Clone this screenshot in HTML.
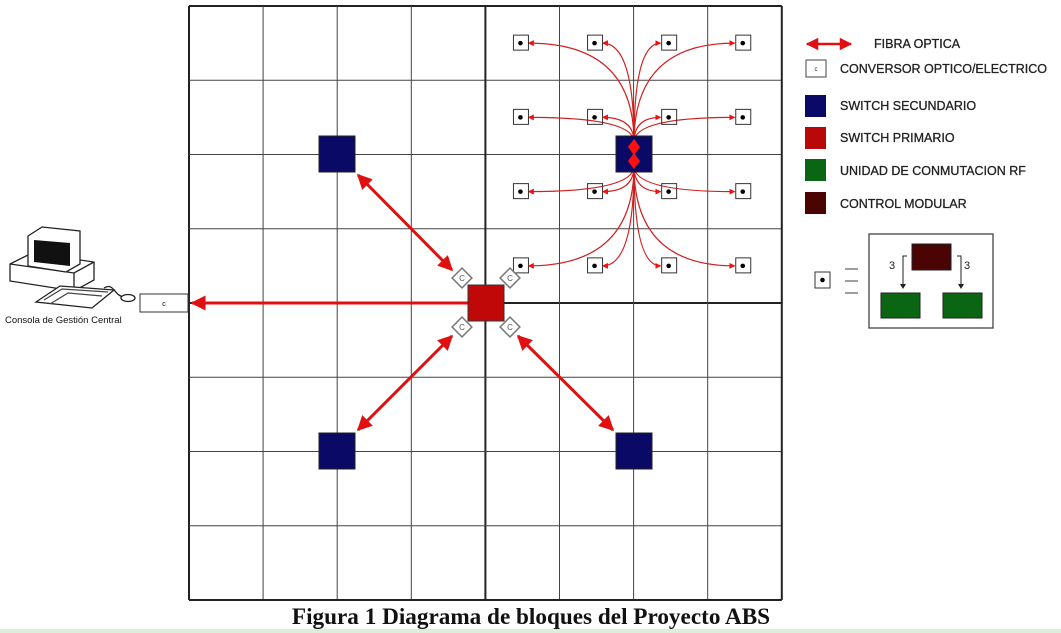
<!DOCTYPE html>
<html><head><meta charset="utf-8"><style>
html,body{margin:0;padding:0;background:#fff;width:1061px;height:633px;overflow:hidden}
svg{display:block}
text{font-family:"Liberation Sans",Arial,sans-serif}
</style></head><body>
<svg id="s" width="1061" height="633" viewBox="0 0 1061 633" xmlns="http://www.w3.org/2000/svg">
<defs>
<marker id="ah" viewBox="0 0 10 10" refX="9" refY="5" markerWidth="6" markerHeight="5" orient="auto-start-reverse"><path d="M0,0L10,5L0,10z" fill="#e01010"/></marker>
<marker id="ah2" viewBox="0 0 10 10" refX="9" refY="5" markerWidth="5" markerHeight="5" orient="auto"><path d="M0,0L10,5L0,10z" fill="#f01010"/></marker>
</defs>
<g id="grid"></g>
<g id="curves"></g>
<g id="nodes"></g>

<line x1="452" y1="270" x2="358" y2="175" stroke="#e01010" stroke-width="3" marker-start="url(#ah)" marker-end="url(#ah)"/>
<line x1="452" y1="336" x2="358" y2="430" stroke="#e01010" stroke-width="3" marker-start="url(#ah)" marker-end="url(#ah)"/>
<line x1="518" y1="336" x2="613" y2="430" stroke="#e01010" stroke-width="3" marker-start="url(#ah)" marker-end="url(#ah)"/>
<line x1="470" y1="303" x2="192" y2="303" stroke="#e01010" stroke-width="3" marker-end="url(#ah)"/>

<rect x="319" y="136" width="36" height="36" fill="#0a0a66" stroke="#222"/>
<rect x="319" y="433" width="36" height="36" fill="#0a0a66" stroke="#222"/>
<rect x="616" y="433" width="36" height="36" fill="#0a0a66" stroke="#222"/>
<rect x="616" y="136" width="36" height="36" fill="#0a0a66" stroke="#222"/>
<path d="M634,139 L640,147 L634,155 L628,147z M634,153 L640,161 L634,169 L628,161z" fill="#ff1010"/>
<rect x="468" y="285" width="36" height="36" fill="#c00808" stroke="#333"/>

<g transform="translate(462,278) rotate(45)"><rect x="-7" y="-7" width="14" height="14" fill="#fff" stroke="#777" stroke-width="1.5"/><text x="0" y="3" font-size="8" text-anchor="middle" fill="#555" transform="rotate(-45)">C</text></g>
<g transform="translate(510,278) rotate(45)"><rect x="-7" y="-7" width="14" height="14" fill="#fff" stroke="#777" stroke-width="1.5"/><text x="0" y="3" font-size="8" text-anchor="middle" fill="#555" transform="rotate(-45)">C</text></g>
<g transform="translate(462,327) rotate(45)"><rect x="-7" y="-7" width="14" height="14" fill="#fff" stroke="#777" stroke-width="1.5"/><text x="0" y="3" font-size="8" text-anchor="middle" fill="#555" transform="rotate(-45)">C</text></g>
<g transform="translate(510,327) rotate(45)"><rect x="-7" y="-7" width="14" height="14" fill="#fff" stroke="#777" stroke-width="1.5"/><text x="0" y="3" font-size="8" text-anchor="middle" fill="#555" transform="rotate(-45)">C</text></g>

<g stroke-width="1.3">
<path d="M10,264 L32,253 L94,262 L94,280 L74,291 L10,281z" fill="#fff" stroke="#222"/>
<path d="M10,264 L74,273 L94,262 M74,273 L74,291" fill="none" stroke="#222"/>
<path d="M28,236 L42,227 L80,231 L80,264 L66,272 L28,266z" fill="#fff" stroke="#222"/>
<path d="M34,240 L70,243 L70,266 L34,262z" fill="#111"/>
<path d="M36,302 L60,286 L114,290 L92,308z" fill="#fff" stroke="#222"/>
<path d="M44,300 L62,289 L108,292 M50,304 L68,293 L102,296" stroke="#444" fill="none"/>
<path d="M104,288 C114,282 114,296 124,297" fill="none" stroke="#222"/>
<ellipse cx="128" cy="298" rx="7" ry="3.5" fill="#fff" stroke="#222"/>
</g>
<text x="5" y="323" font-size="9.5" fill="#111">Consola de Gestión Central</text>
<rect x="140" y="294" width="48" height="18" fill="#fff" stroke="#333"/>
<text x="164" y="306" font-size="7" text-anchor="middle">c</text>

<g font-size="12.5" fill="#222" stroke="#222" stroke-width="0.3">
<line x1="807" y1="44" x2="851" y2="44" stroke="#e01010" stroke-width="2.5" marker-start="url(#ah)" marker-end="url(#ah)"/>
<text x="874" y="48">FIBRA OPTICA</text>
<rect x="806" y="60" width="20" height="17" fill="#fff" stroke="#444" stroke-width="1"/>
<text x="816" y="71" font-size="6" text-anchor="middle" stroke="none">c</text>
<text x="840" y="73">CONVERSOR OPTICO/ELECTRICO</text>
<rect x="805" y="95" width="21" height="22" fill="#0a0a66" stroke="none"/>
<text x="840" y="110">SWITCH SECUNDARIO</text>
<rect x="805" y="127" width="21" height="22" fill="#b80808" stroke="none"/>
<text x="840" y="142">SWITCH PRIMARIO</text>
<rect x="805" y="159" width="21" height="22" fill="#0b6614" stroke="none"/>
<text x="840" y="175">UNIDAD DE CONMUTACION RF</text>
<rect x="805" y="192" width="21" height="22" fill="#4a0404" stroke="none"/>
<text x="840" y="208">CONTROL MODULAR</text>
</g>

<g>
<rect x="815" y="272" width="15" height="16" fill="#fff" stroke="#333"/>
<circle cx="822.5" cy="280" r="2.3" fill="#000"/>
<path d="M845,269h13M845,281h13M845,293h13" stroke="#666" stroke-width="1.2"/>
<rect x="869" y="234" width="124" height="94" fill="#fff" stroke="#444" stroke-width="1.3"/>
<rect x="912" y="244" width="39" height="26" fill="#4a0404" stroke="#222"/>
<rect x="881" y="293" width="39" height="25" fill="#0b6614" stroke="#222"/>
<rect x="943" y="293" width="39" height="25" fill="#0b6614" stroke="#222"/>
<path d="M907,256 h-4 v30 M957,256 h4 v30" stroke="#222" fill="none"/>
<path d="M900,284 l3,5 l3,-5z M958,284 l3,5 l3,-5z" fill="#222"/>
<text x="889" y="269" font-size="11" fill="#222">3</text>
<text x="964" y="269" font-size="11" fill="#222">3</text>
</g>

<text x="531" y="624" font-size="23.2" font-weight="bold" text-anchor="middle" fill="#111" style="font-family:'Liberation Serif',serif">Figura 1 Diagrama de bloques del Proyecto ABS</text>
<rect x="0" y="629" width="1061" height="4" fill="#dcefd8"/>
</svg>
<script>
const NS='http://www.w3.org/2000/svg';
const cols=[0,1,2,3,4,5,6,7,8];
const nodeCols=[4,5,6,7];
const nodeRows=[0,1,2,3];
const X0=189,Y0=6,CW=74.1,CH=74.25;
const gx=i=>X0+i*CW, gy=j=>Y0+j*CH;
const grid=document.getElementById('grid');
cols.forEach(i=>{
  const c=i===4;
  const w=c||i===0||i===8?2:1;
  let l=document.createElementNS(NS,'line');
  l.setAttribute('x1',gx(i));l.setAttribute('x2',gx(i));l.setAttribute('y1',Y0);l.setAttribute('y2',gy(8));
  l.setAttribute('stroke',w>1?'#222':'#444');l.setAttribute('stroke-width',w);
  
  
  grid.appendChild(l);
  let h=document.createElementNS(NS,'line');
  h.setAttribute('y1',gy(i));h.setAttribute('y2',gy(i));h.setAttribute('x1',X0);h.setAttribute('x2',gx(8));
  h.setAttribute('stroke',w>1?'#222':'#444');h.setAttribute('stroke-width',w);
  
  
  grid.appendChild(h);
});
const cg=document.getElementById('curves'), ng=document.getElementById('nodes');
const hx=634,hy=154;
nodeRows.forEach(r=>nodeCols.forEach(c=>{
  const x=gx(c)+CW/2-2, y=gy(r)+CH/2;
  const sy=r<2?hy-12:hy+12;
  const dir=x<hx?1:-1;
  const ex=x+dir*8;
  const p=document.createElementNS(NS,'path');
  p.setAttribute('d',`M${hx},${sy} Q${hx},${y} ${ex},${y}`);
  p.setAttribute('fill','none');p.setAttribute('stroke','#d02020');p.setAttribute('stroke-width','1.2');
  p.setAttribute('marker-end','url(#ah2)');
  
  
  cg.appendChild(p);
  const b=document.createElementNS(NS,'rect');
  b.setAttribute('x',x-7);b.setAttribute('y',y-8);b.setAttribute('width',15);b.setAttribute('height',15);
  b.setAttribute('fill','none');b.setAttribute('stroke','#333');
  
  
  ng.appendChild(b);
  const d=document.createElementNS(NS,'circle');
  d.setAttribute('cx',x);d.setAttribute('cy',y);d.setAttribute('r',2.3);d.setAttribute('fill','#000');
  
  
  ng.appendChild(d);
}));
</script>
</body></html>
